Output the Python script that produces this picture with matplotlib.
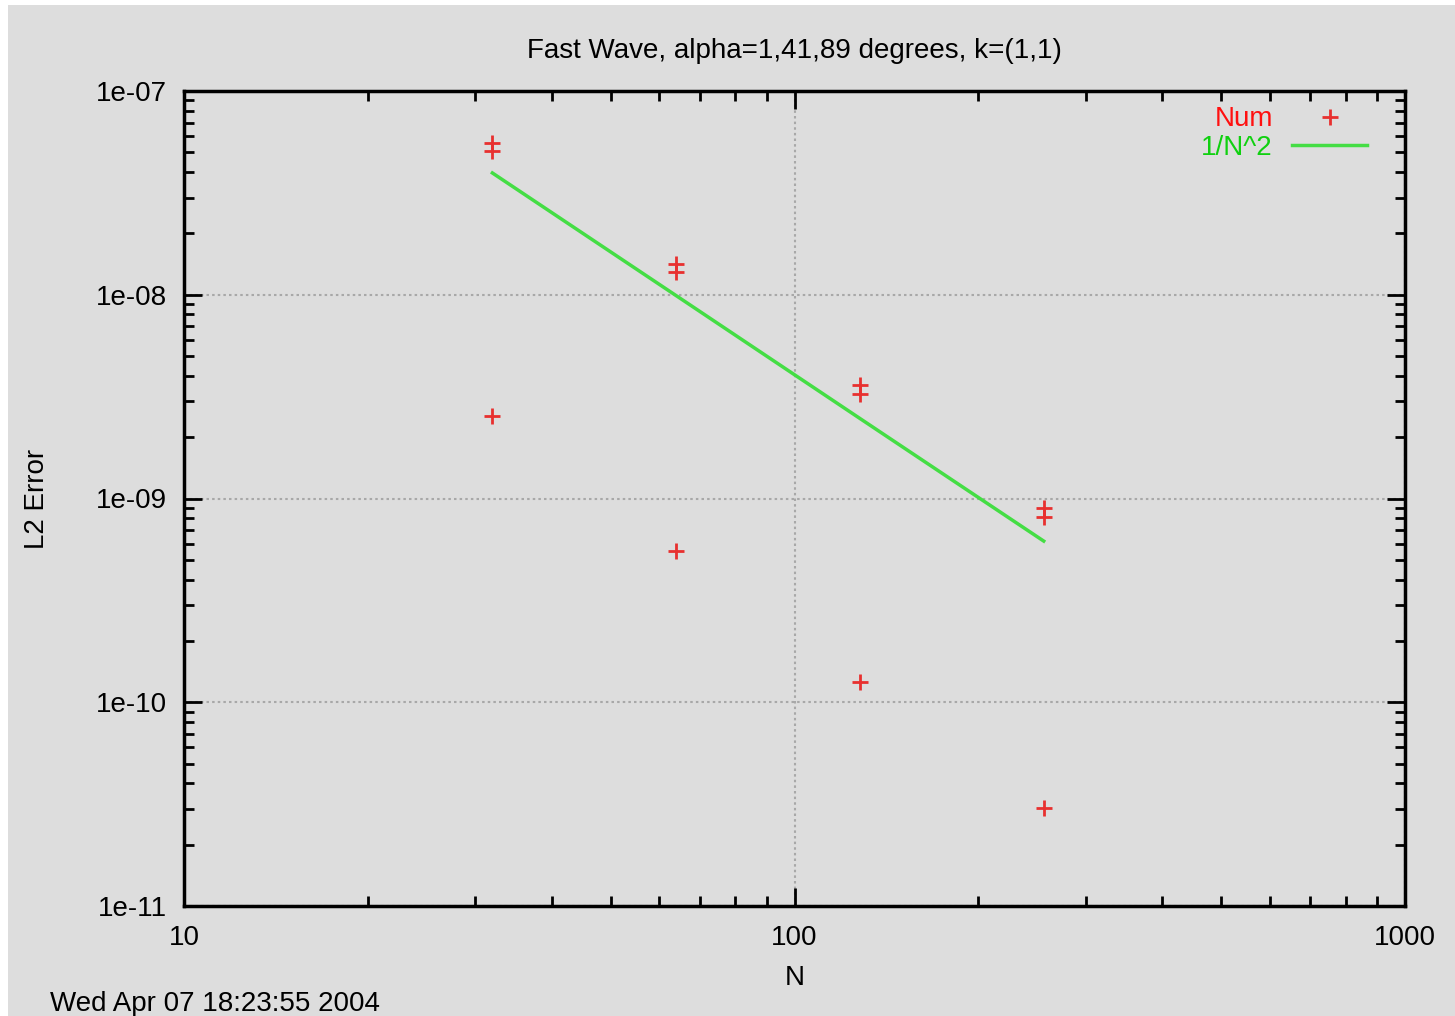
import matplotlib
matplotlib.use("Agg")
import matplotlib.pyplot as plt
from matplotlib.patches import Rectangle
from matplotlib.ticker import LogLocator, NullFormatter, FixedLocator, FixedFormatter

plt.rcParams['font.family'] = ['Liberation Sans', 'DejaVu Sans']

# Data
N_vals = [32, 32, 32, 64, 64, 64, 128, 128, 128, 256, 256, 256]
err_vals = [5.55e-8, 5.08e-8, 2.54e-9,
            1.415e-8, 1.29e-8, 5.5e-10,
            3.6e-9, 3.26e-9, 1.26e-10,
            8.98e-10, 8.12e-10, 3.03e-11]
line_N = [32, 64, 128, 256]
line_err = [3.96e-8, 9.9e-9, 2.47e-9, 6.18e-10]
x_ticks = [10, 100, 1000]
x_labels = ["10", "100", "1000"]
y_ticks = [1e-11, 1e-10, 1e-9, 1e-8, 1e-7]
y_labels = ["1e-11", "1e-10", "1e-09", "1e-08", "1e-07"]

W, H = 1455, 1016
FS = 20
fig = plt.figure(figsize=(W / 100, H / 100), dpi=100, facecolor='white')
bg = '#dddddd'
fig.patches.append(Rectangle((8 / W, 0), 1 - 8 / W, 1 - 5 / H, transform=fig.transFigure,
                             facecolor=bg, edgecolor='none', zorder=-10))

ax = fig.add_axes([184 / W, 1 - 906 / H, (1405 - 184) / W, (906 - 91) / H])
ax.set_facecolor(bg)
ax.set_xscale('log')
ax.set_yscale('log')
ax.set_xlim(10, 1000)
ax.set_ylim(1e-11, 1e-7)

ax.grid(True, which='major', color='#a8a8a8', linestyle=(0, (1.2, 1.5)), linewidth=1.5)
ax.xaxis.set_major_locator(FixedLocator(x_ticks))
ax.xaxis.set_major_formatter(FixedFormatter(x_labels))
ax.yaxis.set_major_locator(FixedLocator(y_ticks))
ax.yaxis.set_major_formatter(FixedFormatter(y_labels))
ax.xaxis.set_minor_locator(LogLocator(base=10, subs=range(2, 10)))
ax.yaxis.set_minor_locator(LogLocator(base=10, subs=range(2, 10)))
ax.xaxis.set_minor_formatter(NullFormatter())
ax.yaxis.set_minor_formatter(NullFormatter())
ax.tick_params(which='both', direction='in', top=True, right=True, color='black',
               labelsize=FS)
ax.tick_params(axis='y', pad=12)
ax.tick_params(axis='x', pad=14)
ax.tick_params(which='major', length=13, width=2)
ax.tick_params(which='minor', length=7, width=2)
for s in ax.spines.values():
    s.set_linewidth(2.5)

ax.plot(N_vals, err_vals, linestyle='none', marker='+', color='#e8302f',
        markersize=12, markeredgewidth=2, label='Num', zorder=3)
ax.plot(line_N, line_err, color='#44dd44', linewidth=2.5, label='1/N^2', zorder=3)

ax.set_title('Fast Wave, alpha=1,41,89 degrees, k=(1,1)', fontsize=FS, pad=24)
ax.set_xlabel('N', fontsize=FS, labelpad=10)
ax.set_ylabel('L2 Error', fontsize=FS, labelpad=33)

# Legend (gnuplot style: text right-aligned, sample to the right)
leg = ax.legend(loc='upper right', frameon=False, fontsize=FS, markerfirst=False,
                handlelength=2.7, handletextpad=0.7, borderaxespad=0.3,
                labelspacing=0.1, bbox_to_anchor=(0.985, 1.005))
for txt, c in zip(leg.get_texts(), ['#ff1010', '#10d010']):
    txt.set_color(c)
    txt.set_ha('right')

fig.text(50 / W, 1 - 1004 / H, 'Wed Apr 07 18:23:55 2004', fontsize=FS,
         ha='left', va='center')

fig.savefig('out.png', dpi=100, facecolor=fig.get_facecolor())
